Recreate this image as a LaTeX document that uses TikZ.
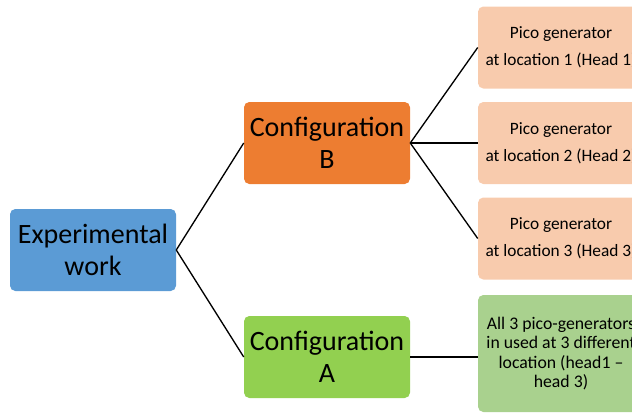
\documentclass[tikz,border=0pt]{standalone}
\usepackage{fontspec}
\setmainfont{Carlito}
\definecolor{expblue}{HTML}{5B9BD5}
\definecolor{cfgorange}{HTML}{ED7D31}
\definecolor{cfggreen}{HTML}{92D050}
\definecolor{picoorange}{HTML}{F8CBAD}
\definecolor{picogreen}{HTML}{A9D18E}
\tikzset{
	box/.style={rounded corners=4pt, align=center, inner sep=2pt,
		minimum width=124.5pt, minimum height=61.5pt},
	bigbox/.style={box, font=\fontsize{21}{24}\selectfont},
	smallbox/.style={box, font=\fontsize{13}{20}\selectfont},
	link/.style={line width=1pt}
}
\begin{document}
\begin{tikzpicture}[x=0.75pt,y=-0.75pt]
			\clip (0,0) rectangle (632,414);
			\node[bigbox, fill=expblue] (E) at (93,250) {Experimental\\work};
			\node[bigbox, fill=cfgorange] (B) at (327,143) {Configuration\\B};
			\node[bigbox, fill=cfggreen] (A) at (327,357) {Configuration\\A};
			\node[smallbox, fill=picoorange] (P1) at (561,47.5) {Pico generator\\at location 1 (Head 1)};
			\node[smallbox, fill=picoorange] (P2) at (561,143) {Pico generator\\at location 2 (Head 2)};
			\node[smallbox, fill=picoorange] (P3) at (561,238.5) {Pico generator\\at location 3 (Head 3)};
			\node[box, fill=picogreen, minimum height=87.75pt, font=\fontsize{13.3}{14.6}\selectfont] (P4) at (561,353.5) {All 3 pico-generators\\in used at 3 different\\location (head1 --\\head 3)};
			% connectors
			\draw[link] (E.east) -- (B.west);
			\draw[link] (E.east) -- (A.west);
			\draw[link] (B.east) -- (P1.west);
			\draw[link] (B.east) -- (P2.west);
			\draw[link] (B.east) -- (P3.west);
			\draw[link] (A.east) -- (A.east -| P4.west);
		\end{tikzpicture}
\end{document}
